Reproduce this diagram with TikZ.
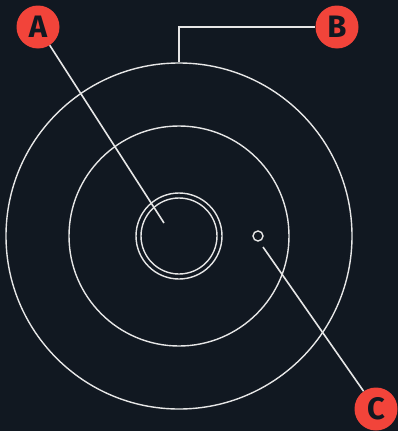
\documentclass[tikz,border=0pt]{standalone}
\usepackage{fontspec}
\setmainfont{Fira Sans}
\definecolor{bg}{HTML}{111821}
\definecolor{ring}{HTML}{E6E6E6}
\definecolor{badge}{HTML}{F2443A}
\begin{document}
\begin{tikzpicture}[x=1pt,y=-1pt,
  ringline/.style={draw=ring, line width=1.4pt, circle, inner sep=0pt},
  leader/.style={draw=ring, line width=1.6pt},
  badgenode/.style={circle, fill=badge, minimum size=43pt, inner sep=0pt,
    text=bg, font=\fontsize{31}{31}\selectfont\bfseries}]
\fill[bg] (0,0) rectangle (398,431);
\useasboundingbox (0,0) rectangle (398,431);
\node[ringline, minimum size=346pt] (outer) at (179,236) {};
\node[ringline, minimum size=220pt] (middle) at (179,236) {};
\node[ringline, minimum size=86pt] (hubout) at (179,236) {};
\node[ringline, minimum size=76pt] (hubin) at (179,236) {};
\node[ringline, minimum size=10pt] (hole) at (258,236) {};
\node[badgenode] (A) at (38,27) {A};
\node[badgenode] (B) at (337,27) {B};
\node[badgenode] (C) at (376,409) {C};
\coordinate (aend) at (164,223);
\coordinate (cstart) at (263,247);
\draw[leader] (A) -- (aend);
\draw[leader] (outer.north) |- (B.west);
\draw[leader] (cstart) -- (C);
\end{tikzpicture}
\end{document}
